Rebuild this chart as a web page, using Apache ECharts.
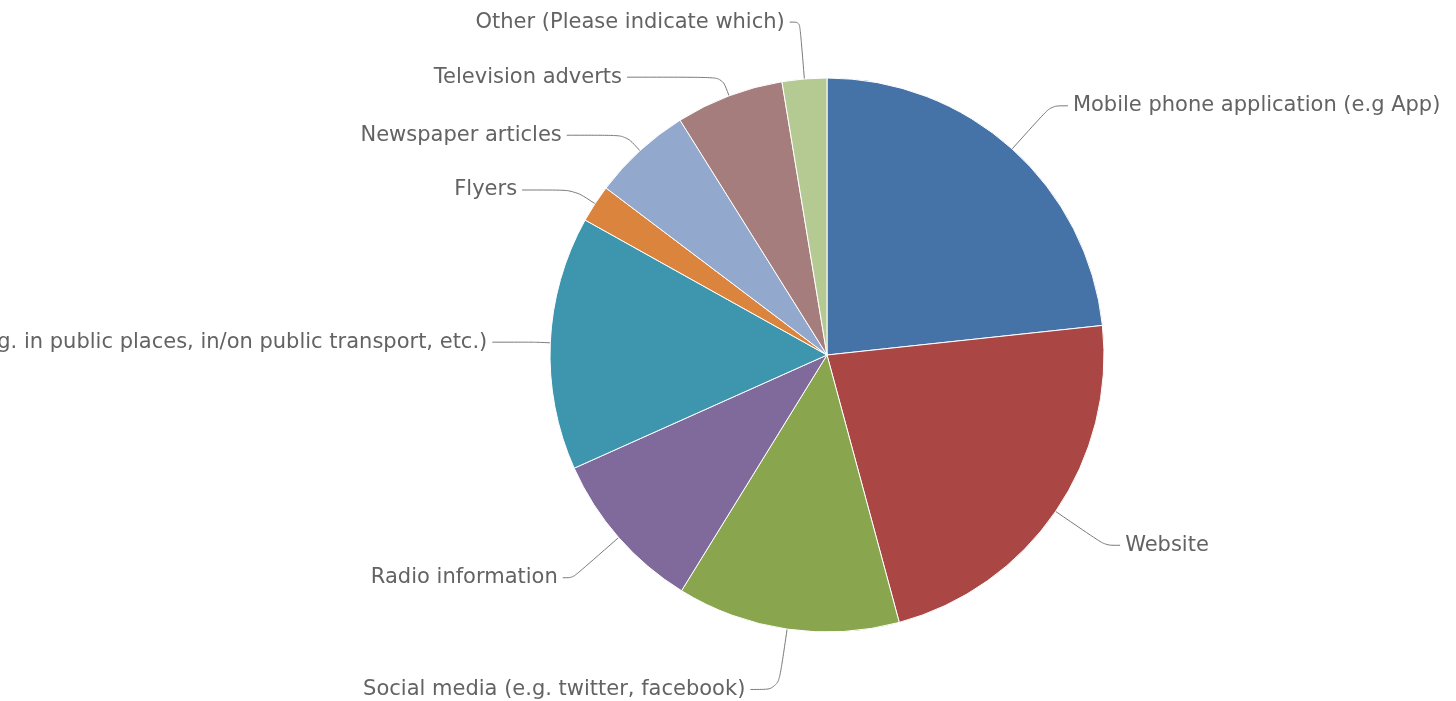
<!DOCTYPE html>
<html>
<head>
<meta charset="utf-8">
<script src="https://cdn.jsdelivr.net/npm/echarts@6/dist/echarts.min.js"></script>
<style>
html,body{margin:0;padding:0;background:#fff;}
#chart{width:1456px;height:701px;}
</style>
</head>
<body>
<div id="chart"></div>
<script>
// Data (share of responses, %)
const categories = [
  'Mobile phone application (e.g App)',
  'Website',
  'Social media (e.g. twitter, facebook)',
  'Radio information',
  'Posters (e.g. in public places, in/on public transport, etc.)',
  'Flyers',
  'Newspaper articles',
  'Television adverts',
  'Other (Please indicate which)'
];
const values = [23.3, 22.5, 13.0, 9.5, 14.8, 2.2, 5.8, 6.3, 2.6];

// Styling (kept separate from data)
const colors = ['#4572A7', '#AA4643', '#89A54E', '#80699B', '#3D96AE', '#DB843D', '#92A8CD', '#A47D7C', '#B5CA92'];
const lineLen1 = [58, 60, 61, 61, 15, 25, 21, 20, 57];
const lineLen2 = [17, 15, 28, 10, 43, 52, 59, 95, 10];

const chart = echarts.init(document.getElementById('chart'), null, {renderer: 'canvas'});

const seriesData = categories.map((name, i) => ({
  name: name,
  value: values[i],
  itemStyle: { color: colors[i] },
  labelLine: { length: lineLen1[i], length2: lineLen2[i] }
}));

chart.setOption({
  backgroundColor: '#ffffff',
  animation: false,
  series: [{
    type: 'pie',
    center: [827, 355],
    radius: 277,
    startAngle: 90,
    clockwise: true,
    avoidLabelOverlap: false,
    data: seriesData,
    itemStyle: { borderColor: '#ffffff', borderWidth: 1 },
    label: {
      show: true,
      formatter: '{b}',
      color: '#636363',
      fontFamily: 'DejaVu Sans',
      fontSize: 21,
      distanceToLabelLine: 5
    },
    labelLine: {
      show: true,
      smooth: 0.3,
      lineStyle: { color: '#7a7a7a', width: 1 }
    },
    emphasis: { disabled: true }
  }]
});
</script>
</body>
</html>
